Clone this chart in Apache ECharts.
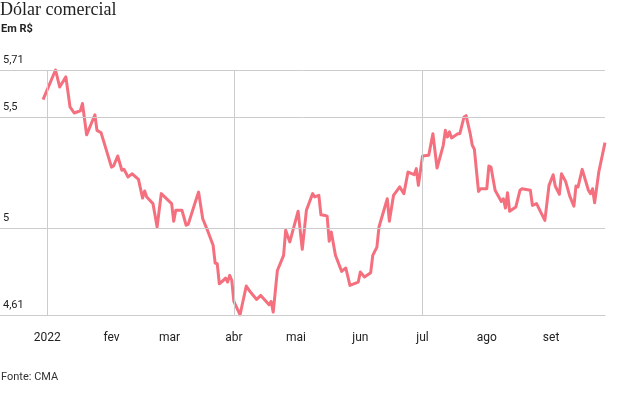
<!DOCTYPE html>
<html>
<head>
<meta charset="utf-8">
<script src="https://cdn.jsdelivr.net/npm/echarts@6/dist/echarts.min.js"></script>
<style>
  html, body { margin: 0; padding: 0; background: #fff; }
  #chart { width: 629px; height: 397px; }
</style>
</head>
<body>
<div id="chart"></div>
<script>
  // dólar comercial, fechamento (R$)
  const dates = ['2021-12-30','2022-01-05','2022-01-07','2022-01-10','2022-01-12','2022-01-14','2022-01-17','2022-01-18','2022-01-20','2022-01-24','2022-01-25','2022-01-27',
    '2022-02-01','2022-02-02','2022-02-04','2022-02-06','2022-02-07','2022-02-09','2022-02-11','2022-02-14','2022-02-16','2022-02-17','2022-02-18','2022-02-21','2022-02-23','2022-02-25',
    '2022-03-02','2022-03-03','2022-03-04','2022-03-07','2022-03-09','2022-03-10','2022-03-13','2022-03-15','2022-03-17','2022-03-19','2022-03-22','2022-03-23','2022-03-24','2022-03-25','2022-03-27','2022-03-28','2022-03-29','2022-03-30','2022-03-31',
    '2022-04-01','2022-04-04','2022-04-07','2022-04-09','2022-04-12','2022-04-14','2022-04-18','2022-04-19','2022-04-20','2022-04-22','2022-04-25','2022-04-26','2022-04-28',
    '2022-05-02','2022-05-04','2022-05-06','2022-05-09','2022-05-10','2022-05-12','2022-05-13','2022-05-15','2022-05-16','2022-05-17','2022-05-18','2022-05-20','2022-05-23','2022-05-25','2022-05-27','2022-05-31',
    '2022-06-01','2022-06-03','2022-06-06','2022-06-07','2022-06-09','2022-06-10','2022-06-14','2022-06-15','2022-06-17','2022-06-20','2022-06-22','2022-06-24','2022-06-27','2022-06-28','2022-06-29',
    '2022-07-01','2022-07-04','2022-07-06','2022-07-08','2022-07-11','2022-07-12','2022-07-13','2022-07-14','2022-07-15','2022-07-18','2022-07-19','2022-07-21','2022-07-22','2022-07-24','2022-07-25','2022-07-26','2022-07-28','2022-07-29',
    '2022-08-01','2022-08-02','2022-08-03','2022-08-05','2022-08-08','2022-08-09','2022-08-10','2022-08-11','2022-08-12','2022-08-15','2022-08-17','2022-08-18','2022-08-22','2022-08-23','2022-08-25','2022-08-27','2022-08-29','2022-08-31',
    '2022-09-02','2022-09-03','2022-09-05','2022-09-06','2022-09-08','2022-09-10','2022-09-12','2022-09-13','2022-09-14','2022-09-16','2022-09-19','2022-09-20','2022-09-21','2022-09-22','2022-09-24','2022-09-27'];

  const values = [5.577,5.71,5.634,5.679,5.544,5.517,5.527,5.56,5.419,5.509,5.439,5.428,
    5.274,5.279,5.324,5.26,5.264,5.23,5.244,5.219,5.135,5.167,5.14,5.11,5.005,5.155,
    5.11,5.031,5.08,5.08,5.013,5.017,5.105,5.162,5.042,4.997,4.923,4.843,4.84,4.75,4.766,4.776,4.758,4.788,4.766,
    4.671,4.611,4.74,4.713,4.68,4.698,4.656,4.671,4.623,4.81,4.878,4.99,4.938,
    5.076,4.905,5.08,5.155,5.14,5.147,5.06,5.057,5.054,4.941,4.983,4.878,4.806,4.821,4.743,4.758,
    4.803,4.781,4.80,4.878,4.915,5.005,5.132,5.031,5.147,5.185,5.155,5.252,5.24,5.267,5.192,
    5.324,5.327,5.424,5.27,5.372,5.439,5.409,5.432,5.405,5.424,5.424,5.499,5.505,5.424,5.372,5.354,5.165,5.177,
    5.177,5.279,5.274,5.17,5.12,5.132,5.09,5.159,5.076,5.095,5.17,5.177,5.17,5.102,5.11,5.072,5.035,5.192,
    5.24,5.189,5.152,5.244,5.21,5.144,5.099,5.189,5.185,5.264,5.17,5.155,5.177,5.114,5.252,5.384];

  const yTicks = [4.61, 5, 5.5, 5.71];
  const monthTicks = ['2022-01-01','2022-02-01','2022-03-01','2022-04-01','2022-05-01','2022-06-01','2022-07-01','2022-08-01','2022-09-01'];
  const monthLabels = ['2022','fev','mar','abr','mai','jun','jul','ago','set'];
  const quarterLines = ['2022-01-01','2022-04-01','2022-07-01'];

  // 'YYYY-MM-DD' -> local midnight timestamp
  function toTime(s) {
    let p = s.split('-');
    return new Date(+p[0], +p[1] - 1, +p[2]).getTime();
  }

  const DAY = 86400000;
  const xMin = toTime('2022-01-01') - 22.77 * DAY;
  const xMax = toTime('2022-09-27');

  const gridColor = '#cccccc';
  const lineColor = '#f4707f';
  const sans = 'Roboto';

  let chart = echarts.init(document.getElementById('chart'));

  let option = {
    animation: false,
    title: [
      {
        text: 'Dólar comercial',
        left: 0, top: 1, padding: 0,
        textStyle: { fontFamily: 'Liberation Serif', fontSize: 18, fontWeight: 'normal', color: '#222' }
      },
      {
        text: 'Em R$',
        left: 1, top: 24, padding: 0,
        textStyle: { fontFamily: sans, fontSize: 11, fontWeight: 'bold', color: '#222' }
      },
      {
        text: 'Fonte: CMA',
        left: 1, top: 372, padding: 0,
        textStyle: { fontFamily: sans, fontSize: 11, fontWeight: 'normal', color: '#333' }
      }
    ],
    grid: { left: 0, right: 24, top: 70, bottom: 82 },
    xAxis: {
      type: 'value',
      min: xMin,
      max: xMax,
      axisLine: { show: true, lineStyle: { color: gridColor, width: 1 } },
      axisTick: { show: false },
      splitLine: { show: false },
      axisLabel: {
        customValues: monthTicks.map(toTime),
        margin: 17,
        color: '#222',
        fontFamily: sans,
        fontSize: 12,
        formatter: function (val) {
          return monthLabels[new Date(val).getMonth()];
        }
      }
    },
    yAxis: {
      type: 'value',
      min: 4.61,
      max: 5.71,
      axisLine: { show: false },
      axisTick: { show: false },
      splitLine: { show: false },
      axisLabel: {
        customValues: yTicks,
        inside: true,
        margin: 3,
        verticalAlign: 'bottom',
        padding: [0, 0, 4, 0],
        color: '#222',
        fontFamily: sans,
        fontSize: 11,
        formatter: function (val) {
          return String(val).replace('.', ',');
        }
      }
    },
    series: [
      {
        name: 'grade',
        type: 'line',
        data: [],
        z: 1,
        silent: true,
        markLine: {
          silent: true,
          symbol: 'none',
          animation: false,
          label: { show: false },
          lineStyle: { type: 'solid', color: gridColor, width: 1 },
          data: yTicks.map(v => ({ yAxis: v })).concat(quarterLines.map(d => ({ xAxis: toTime(d) })))
        }
      },
      {
        name: 'Dólar comercial',
        type: 'line',
        z: 3,
        clip: false,
        showSymbol: false,
        symbol: 'none',
        lineStyle: { color: lineColor, width: 3, join: 'round' },
        data: dates.map((d, i) => [toTime(d), values[i]])
      }
    ]
  };

  chart.setOption(option);
</script>
</body>
</html>
